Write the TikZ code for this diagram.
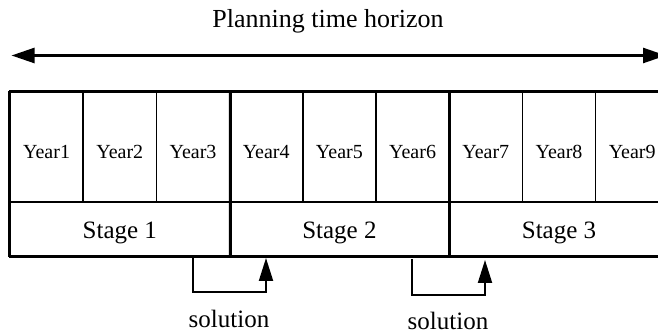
\documentclass[tikz,border=0pt]{standalone}
\usepackage{fontspec}
\setmainfont{Liberation Serif}
\newfontfamily\tnr{Liberation Serif}
\usetikzlibrary{arrows.meta}
\begin{document}
\begin{tikzpicture}[x=1pt,y=-1pt,
  yearcell/.style={draw, line width=1.5pt, minimum width=73.2pt, minimum height=110pt,
    inner sep=0pt, font=\tnr\fontsize{20}{24}\selectfont, text height=24pt, text depth=0pt},
  stagecell/.style={draw, line width=1.5pt, minimum width=219.6pt, minimum height=54pt,
    inner sep=0pt, font=\tnr\fontsize{25}{30}\selectfont, text height=20pt, text depth=0pt},
  thickline/.style={line width=3pt},
  horizon/.style={line width=2.5pt, {Triangle[length=23pt,width=15pt]}-{Triangle[length=23pt,width=15pt]}},
  feedback/.style={line width=2pt, -{Triangle[length=23pt,width=14pt]}},
  lbl/.style={inner sep=0pt, anchor=base, font=\tnr\fontsize{25}{30}\selectfont}]
\useasboundingbox (0,0) rectangle (658,336);
\clip (0,0) rectangle (658,336);
% title and horizon arrow
\node[lbl, font=\tnr\fontsize{26}{31}\selectfont] (title) at (328,28) {Planning time horizon};
\coordinate (hl) at (11.5,55.5);
\coordinate (hr) at (666,55.5);
\draw[horizon] (hl) -- (hr);
% year cells
\node[yearcell] (y1) at (46.6,147) {Year1};
\node[yearcell] (y2) at (119.8,147) {Year2};
\node[yearcell] (y3) at (193,147) {Year3};
\node[yearcell] (y4) at (266.2,147) {Year4};
\node[yearcell] (y5) at (339.4,147) {Year5};
\node[yearcell] (y6) at (412.6,147) {Year6};
\node[yearcell] (y7) at (485.8,147) {Year7};
\node[yearcell] (y8) at (559,147) {Year8};
\node[yearcell] (y9) at (632.2,147) {Year9};
% stage cells
\node[stagecell] (s1) at (119.8,229) {Stage 1};
\node[stagecell] (s2) at (339.4,229) {Stage 2};
\node[stagecell] (s3) at (559,229) {Stage 3};
% thick frame and stage dividers
\draw[thickline] (y1.north west) -- (y9.north east);
\draw[thickline] (s1.south west) -- (s3.south east);
\draw[thickline] (y1.north west) -- (s1.south west);
\draw[thickline] (y3.north east) -- (s1.south east);
\draw[thickline] (y6.north east) -- (s2.south east);
\draw[thickline] (y9.north east) -- (s3.south east);
% feedback brackets
\coordinate (a1) at (193,257);
\coordinate (b1) at (266,258);
\draw[feedback] (a1) -- (193,292) -| (b1);
\coordinate (a2) at (412,259);
\coordinate (b2) at (485,260);
\draw[feedback] (a2) -- (412,295) -| (b2);
\node[lbl] (sol1) at (229,327) {solution};
\node[lbl] (sol2) at (448,330) {solution};
\end{tikzpicture}
\end{document}
